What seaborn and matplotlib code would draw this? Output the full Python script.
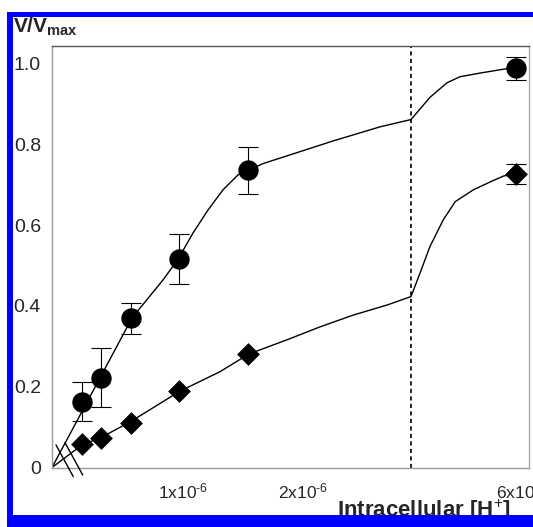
import matplotlib
matplotlib.use("Agg")
import matplotlib.pyplot as plt
import numpy as np
import seaborn as sns
from matplotlib.patches import Rectangle

# measured points ([H+] in M, fraction of Vmax)
h_conc = [0.16e-6, 0.315e-6, 0.565e-6, 0.97e-6, 1.54e-6, 5.86e-6]
circle_v = [0.163, 0.222, 0.369, 0.515, 0.735, 0.988]
circle_err = [0.048, 0.073, 0.038, 0.062, 0.057, 0.028]
diamond_v = [0.058, 0.073, 0.110, 0.189, 0.281, 0.726]
diamond_err = [0.0, 0.0, 0.0, 0.0, 0.0, 0.024]

# fitted curves
circle_fit_x = [0, 0.308e-6, 0.575e-6, 0.833e-6, 0.958e-6, 1.083e-6, 1.208e-6, 1.333e-6,
                1.458e-6, 1.533e-6, 1.667e-6, 1.917e-6, 2.25e-6, 2.642e-6, 2.9e-6,
                3.435e-6, 3.915e-6, 4.281e-6, 4.845e-6, 5.606e-6, 5.86e-6]
circle_fit_y = [0, 0.2215, 0.370, 0.464, 0.515, 0.580, 0.637, 0.687,
                0.724, 0.734, 0.752, 0.776, 0.808, 0.843, 0.861,
                0.916, 0.952, 0.967, 0.976, 0.987, 0.989]
diamond_fit_x = [0, 0.158e-6, 0.325e-6, 0.558e-6, 0.975e-6, 1.308e-6, 1.55e-6, 1.867e-6,
                 2.142e-6, 2.417e-6, 2.7e-6, 2.9e-6, 3.154e-6, 3.435e-6, 3.81e-6,
                 4.148e-6, 4.656e-6, 5.14e-6, 5.516e-6, 5.86e-6]
diamond_fit_y = [0, 0.0557, 0.0755, 0.1126, 0.189, 0.237, 0.281, 0.316,
                 0.348, 0.377, 0.402, 0.423, 0.481, 0.547, 0.613,
                 0.658, 0.687, 0.707, 0.7215, 0.726]

x_ticks = [1e-6, 2e-6, 6e-6]
x_tick_labels = [r"1x10$^{\text{-6}}$", r"2x10$^{\text{-6}}$", r"6x10$^{\text{-6}}$"]
y_ticks = [0, 0.2, 0.4, 0.6, 0.8, 1.0]
y_tick_labels = ["0", "0.2", "0.4", "0.6", "0.8", "1.0"]
axis_break = 2.9e-6

sns.set_style("white")
plt.rcParams["font.family"] = ["Liberation Sans", "DejaVu Sans"]
plt.rcParams["mathtext.fontset"] = "custom"
plt.rcParams["mathtext.rm"] = "Liberation Sans"
plt.rcParams["mathtext.it"] = "Liberation Sans:italic"
plt.rcParams["mathtext.bf"] = "Liberation Sans:bold"

# broken x axis: piecewise linear scale
XB = np.array([0, 0.05e-6, axis_break, 6.226e-6])
UB = np.array([0, 17.0, 359.0, 477.0])


def _pw(x, xs, ys):
    x = np.asarray(x, dtype=float)
    y = np.interp(x, xs, ys)
    lo_slope = (ys[1] - ys[0]) / (xs[1] - xs[0])
    hi_slope = (ys[-1] - ys[-2]) / (xs[-1] - xs[-2])
    y = np.where(x < xs[0], ys[0] + (x - xs[0]) * lo_slope, y)
    y = np.where(x > xs[-1], ys[-1] + (x - xs[-1]) * hi_slope, y)
    return y


def fwd(x):
    return _pw(x, XB, UB)


def inv(u):
    return _pw(u, UB, XB)


fig = plt.figure(figsize=(5.33, 5.27), dpi=100)
ax = fig.add_axes([52 / 533, 59.5 / 527, 477 / 533, 421.5 / 527])
ax.set_xscale("function", functions=(fwd, inv))

ax.axvline(axis_break, color="black", lw=1.2, ls=(0, (2.5, 2)), zorder=1)

sns.lineplot(x=circle_fit_x, y=circle_fit_y, sort=False, estimator=None,
             color="black", lw=1.0, ax=ax, zorder=2)
sns.lineplot(x=diamond_fit_x, y=diamond_fit_y, sort=False, estimator=None,
             color="black", lw=1.0, ax=ax, zorder=2)

ax.errorbar(h_conc, circle_v, yerr=circle_err, fmt="none", ecolor="black",
            elinewidth=0.8, capsize=7, capthick=0.8, zorder=3)
ax.errorbar(h_conc, diamond_v, yerr=diamond_err, fmt="none", ecolor="black",
            elinewidth=0.8, capsize=7, capthick=0.8, zorder=3)

sns.scatterplot(x=h_conc, y=circle_v, marker="o", s=215, color="black",
                edgecolor="black", linewidth=0, ax=ax, zorder=4)
sns.scatterplot(x=h_conc, y=diamond_v, marker="D", s=135, color="black",
                edgecolor="black", linewidth=0, ax=ax, zorder=4)

ax.set_xlim(0, 6.226e-6)
ax.set_ylim(0, 1.043)
ax.set_xticks(x_ticks)
ax.set_xticklabels(x_tick_labels, fontsize=12.5)
ax.set_yticks(y_ticks)
ax.set_yticklabels(y_tick_labels, fontsize=14)
ax.minorticks_off()
ax.tick_params(axis="y", direction="out", length=4, width=1, color="#333333", pad=4)
ax.tick_params(axis="x", direction="out", length=4, width=0.7, color="#777777", pad=6)
ax.set_xlabel("")
ax.set_ylabel("")

for side, col in [("top", "#555555"), ("left", "#999999"),
                  ("bottom", "#999999"), ("right", "#aaaaaa")]:
    ax.spines[side].set_visible(True)
    ax.spines[side].set_color(col)
    ax.spines[side].set_linewidth(1.0)

# break marks near the origin
for (x0, y0, x1, y1) in [(0.0084, 0.0534, 0.0447, -0.0218),
                         (0.0273, 0.0588, 0.0644, -0.0178)]:
    ax.plot([x0, x1], [y0, y1], transform=ax.transAxes, color="black",
            lw=1.0, clip_on=False, zorder=5)

fig.text(13 / 533, 1 - 33 / 527, r"$\mathbf{V/V_{max}}$", fontsize=15,
         ha="left", va="baseline")
fig.text(511 / 533, 1 - 497 / 527, r"Intracellular [H$^{+}$]",
         fontsize=16, fontweight="bold", ha="right", va="top")

# blue frame (left, top, bottom)
blue = "#0000ff"
for (x, y, w, h) in [(7, 0, 6, 515), (7, 510, 526, 5), (7, 0, 526, 12)]:
    fig.add_artist(Rectangle((x / 533, y / 527), w / 533, h / 527,
                             transform=fig.transFigure, color=blue, lw=0, zorder=10))

fig.savefig("out.png", dpi=100)
